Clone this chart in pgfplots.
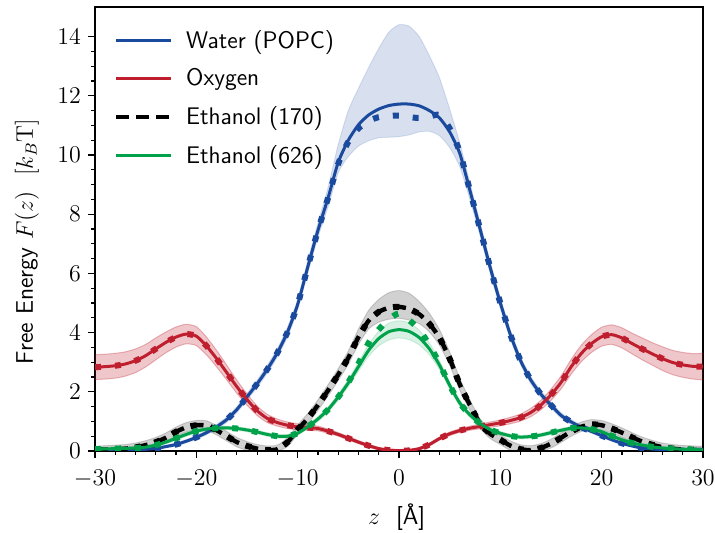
\documentclass[border=0pt]{standalone}
\usepackage{pgfplots}
\pgfplotsset{compat=1.18}
\usepackage{pgfplotstable}
\usepgfplotslibrary{fillbetween}
\definecolor{cblue}{HTML}{1A4A9E}
\definecolor{cred}{HTML}{BE1E2D}
\definecolor{cgreen}{HTML}{00A14B}

% z F Fd U L
\pgfplotstableread{
z F Fd U L
-30 0.00 0.00 0.03 0.00
-28 0.01 0.01 0.04 0.00
-26 0.03 0.03 0.06 0.01
-24 0.09 0.09 0.12 0.06
-23 0.15 0.15 0.19 0.11
-22 0.22 0.22 0.27 0.17
-21 0.33 0.33 0.38 0.28
-20 0.46 0.46 0.52 0.40
-19 0.62 0.62 0.69 0.55
-18 0.82 0.82 0.90 0.74
-17 1.06 1.06 1.15 0.97
-16 1.40 1.40 1.50 1.30
-15 1.83 1.83 1.94 1.72
-14 2.27 2.27 2.39 2.15
-13 2.76 2.76 2.89 2.63
-12 3.32 3.32 3.46 3.18
-11 4.02 4.02 4.18 3.86
-10 4.95 4.95 5.12 4.78
-9 6.22 6.22 6.42 6.02
-8 7.45 7.45 7.70 7.22
-7 8.55 8.55 8.90 8.25
-6 9.75 9.70 10.35 9.40
-5 10.50 10.45 11.50 9.95
-4 11.02 10.90 12.25 10.30
-3 11.35 11.15 12.95 10.48
-2 11.55 11.28 13.60 10.58
-1 11.67 11.32 14.15 10.60
0 11.72 11.33 14.40 10.62
1 11.72 11.28 14.35 10.68
2 11.66 11.25 14.00 10.78
3 11.50 11.30 13.35 10.80
4 11.25 11.35 12.60 10.65
5 10.78 10.90 11.55 10.25
6 10.05 10.10 10.40 9.60
7 8.80 8.80 9.05 8.50
8 7.50 7.50 7.72 7.28
9 6.20 6.20 6.40 6.00
10 5.00 5.00 5.17 4.83
11 3.92 3.92 4.07 3.77
12 3.05 3.05 3.18 2.92
13 2.40 2.40 2.52 2.28
14 1.92 1.92 2.03 1.81
15 1.55 1.55 1.65 1.45
16 1.20 1.20 1.29 1.11
17 0.98 0.98 1.06 0.90
18 0.80 0.80 0.87 0.73
19 0.66 0.66 0.72 0.60
20 0.52 0.52 0.58 0.46
21 0.38 0.38 0.43 0.33
22 0.26 0.26 0.30 0.22
23 0.17 0.17 0.21 0.13
24 0.10 0.10 0.13 0.07
26 0.04 0.04 0.07 0.01
28 0.01 0.01 0.04 0.00
30 0.00 0.00 0.03 0.00
}\water

\pgfplotstableread{
z F U L
-30 2.83 3.25 2.41
-29 2.85 3.27 2.43
-28 2.88 3.30 2.46
-27 2.94 3.35 2.53
-26 3.05 3.45 2.65
-25 3.22 3.60 2.84
-24 3.45 3.82 3.08
-23 3.67 4.02 3.32
-22 3.85 4.19 3.51
-21 3.95 4.28 3.62
-20 3.88 4.20 3.56
-19 3.55 3.85 3.25
-18 3.12 3.40 2.84
-17 2.65 2.90 2.40
-16 2.17 2.39 1.95
-15 1.74 1.93 1.55
-14 1.36 1.52 1.20
-13 1.10 1.24 0.96
-12 0.96 1.08 0.84
-11 0.87 0.98 0.76
-10 0.82 0.92 0.72
-9 0.79 0.88 0.70
-8 0.76 0.84 0.68
-7 0.67 0.74 0.60
-6 0.56 0.62 0.50
-5 0.43 0.49 0.37
-4 0.30 0.35 0.25
-3 0.18 0.23 0.13
-2 0.08 0.12 0.04
-1 0.03 0.07 0.00
0 0.01 0.05 0.00
1 0.02 0.06 0.00
2 0.08 0.12 0.04
3 0.22 0.27 0.17
4 0.42 0.47 0.37
5 0.58 0.64 0.52
6 0.69 0.75 0.63
7 0.77 0.84 0.70
8 0.83 0.91 0.75
9 0.89 0.98 0.80
10 0.95 1.05 0.85
11 1.03 1.14 0.92
12 1.13 1.25 1.01
13 1.30 1.44 1.16
14 1.55 1.71 1.39
15 1.90 2.09 1.71
16 2.32 2.54 2.10
17 2.85 3.10 2.60
18 3.30 3.58 3.02
19 3.63 3.93 3.33
20 3.86 4.18 3.54
21 3.93 4.26 3.60
22 3.82 4.16 3.48
23 3.63 3.98 3.28
24 3.45 3.82 3.08
25 3.28 3.66 2.90
26 3.12 3.52 2.72
27 2.99 3.40 2.58
28 2.91 3.33 2.49
29 2.86 3.29 2.43
30 2.85 3.30 2.40
}\oxygen

\pgfplotstableread{
z F U L
-30 0.04 0.16 0.00
-28 0.06 0.20 0.00
-27 0.08 0.22 0.00
-26 0.12 0.27 0.00
-25 0.20 0.35 0.05
-24 0.30 0.46 0.14
-23 0.45 0.61 0.29
-22 0.65 0.81 0.49
-21 0.80 0.96 0.64
-20 0.87 1.03 0.71
-19 0.86 1.02 0.70
-18 0.70 0.86 0.54
-17 0.50 0.66 0.34
-16 0.30 0.46 0.14
-15 0.17 0.32 0.02
-14 0.08 0.22 0.00
-13 0.03 0.17 0.00
-12 0.06 0.20 0.00
-11 0.30 0.45 0.15
-10 0.72 0.88 0.56
-9 1.10 1.27 0.93
-8 1.55 1.73 1.37
-7 2.05 2.24 1.86
-6 2.58 2.78 2.38
-5 3.15 3.38 2.93
-4 3.85 4.12 3.60
-3 4.40 4.75 4.12
-2 4.70 5.12 4.35
-1 4.84 5.35 4.45
0 4.87 5.42 4.48
1 4.80 5.33 4.42
2 4.62 5.05 4.30
3 4.30 4.65 4.02
4 3.82 4.10 3.57
5 3.12 3.35 2.90
6 2.25 2.45 2.05
7 1.55 1.72 1.38
8 0.93 1.09 0.77
9 0.58 0.74 0.42
10 0.38 0.54 0.22
11 0.18 0.34 0.02
12 0.06 0.21 0.00
13 0.03 0.18 0.00
14 0.10 0.25 0.00
15 0.25 0.40 0.10
16 0.45 0.61 0.29
17 0.66 0.82 0.50
18 0.82 0.98 0.66
19 0.90 1.06 0.74
20 0.87 1.03 0.71
21 0.76 0.92 0.60
22 0.62 0.78 0.46
23 0.46 0.62 0.30
24 0.32 0.47 0.17
25 0.21 0.36 0.06
26 0.13 0.27 0.00
27 0.08 0.22 0.00
28 0.05 0.19 0.00
30 0.03 0.16 0.00
}\ethA

\pgfplotstableread{
z F Fd U L
-30 0.06 0.06 0.12 0.01
-28 0.08 0.08 0.14 0.02
-26 0.10 0.10 0.16 0.04
-25 0.13 0.13 0.19 0.07
-24 0.20 0.20 0.26 0.14
-23 0.30 0.30 0.36 0.24
-22 0.43 0.43 0.49 0.37
-21 0.56 0.56 0.62 0.50
-20 0.67 0.67 0.73 0.61
-19 0.74 0.74 0.80 0.68
-18 0.77 0.77 0.83 0.71
-17 0.78 0.78 0.84 0.72
-16 0.76 0.76 0.82 0.70
-15 0.71 0.71 0.77 0.65
-14 0.64 0.64 0.70 0.58
-13 0.56 0.56 0.62 0.50
-12 0.50 0.50 0.56 0.44
-11 0.50 0.50 0.56 0.44
-10 0.60 0.60 0.66 0.54
-9 0.82 0.82 0.89 0.75
-8 1.08 1.08 1.16 1.00
-7 1.40 1.40 1.49 1.31
-6 1.82 1.82 1.92 1.72
-5 2.30 2.32 2.42 2.18
-4 2.85 2.95 3.00 2.70
-3 3.40 3.65 3.60 3.20
-2 3.80 4.10 4.05 3.55
-1 4.03 4.45 4.32 3.75
0 4.10 4.65 4.40 3.82
1 4.04 4.42 4.33 3.76
2 3.83 4.10 4.08 3.58
3 3.45 3.58 3.65 3.25
4 2.90 2.95 3.05 2.75
5 2.22 2.22 2.34 2.10
6 1.62 1.62 1.72 1.52
7 1.22 1.22 1.30 1.14
8 0.93 0.93 1.00 0.86
9 0.72 0.72 0.78 0.66
10 0.60 0.60 0.66 0.54
11 0.51 0.51 0.57 0.45
12 0.47 0.47 0.53 0.41
13 0.49 0.49 0.55 0.43
14 0.54 0.54 0.60 0.48
15 0.62 0.62 0.68 0.56
16 0.70 0.70 0.76 0.64
17 0.77 0.77 0.83 0.71
18 0.78 0.78 0.84 0.72
19 0.74 0.74 0.80 0.68
20 0.65 0.65 0.71 0.59
21 0.51 0.51 0.57 0.45
22 0.38 0.38 0.44 0.32
23 0.27 0.27 0.33 0.21
24 0.20 0.20 0.26 0.14
25 0.14 0.14 0.20 0.08
26 0.10 0.10 0.16 0.04
27 0.08 0.08 0.14 0.02
28 0.06 0.06 0.12 0.00
30 0.04 0.04 0.10 0.00
}\ethB

\begin{document}
\begin{tikzpicture}
\begin{axis}[
  scale only axis, width=304pt, height=222pt,
  xmin=-30, xmax=30, ymin=0, ymax=15,
  xtick={-30,-20,...,30}, ytick={0,2,...,14},
  minor x tick num=4, minor y tick num=3,
  tick align=outside, xtick pos=bottom, ytick pos=left,
  major tick length=3.5pt, minor tick length=2pt,
  tick style={black, line width=0.6pt},
  axis line style={line width=0.7pt},
  tick label style={font=\fontsize{12.5}{14}\selectfont},
  xticklabel style={yshift=-2.5pt},
  label style={font=\fontsize{12}{14}\selectfont\sffamily},
  xlabel={$z$\hspace{8pt}[\AA]},
  ylabel={Free Energy $F(z)$\ \ $[k_B\mathrm{T}]$},
  xlabel style={at={(axis description cs:0.496,-0.149)}, anchor=center},
  ylabel style={at={(axis description cs:-0.112,0.472)}, anchor=center},
  legend style={draw=none, fill=none, at={(axis description cs:0.024,0.967)}, anchor=north west,
    font=\fontsize{12}{14}\selectfont\sffamily, row sep=4.8pt, inner sep=2pt},
  legend cell align=left,
  legend image code/.code={\draw[#1] (0pt,0pt) -- (27.5pt,0pt); \path[draw=none] (0pt,0pt) -- (33pt,0pt);},
  every axis plot/.append style={smooth, tension=0.4},
]
% bands
\addplot[name path=wu, draw=cblue, draw opacity=0.15, line width=0.5pt, forget plot] table[x=z,y=U]{\water};
\addplot[name path=wl, draw=cblue, draw opacity=0.15, line width=0.5pt, forget plot] table[x=z,y=L]{\water};
\addplot[fill=cblue, fill opacity=0.17, draw=none, forget plot] fill between[of=wu and wl];
\addplot[name path=ou, draw=cred, draw opacity=0.3, line width=0.5pt, forget plot] table[x=z,y=U]{\oxygen};
\addplot[name path=ol, draw=cred, draw opacity=0.3, line width=0.5pt, forget plot] table[x=z,y=L]{\oxygen};
\addplot[fill=cred, fill opacity=0.25, draw=none, forget plot] fill between[of=ou and ol];
\addplot[name path=au, draw=black, draw opacity=0.15, line width=0.5pt, forget plot] table[x=z,y=U]{\ethA};
\addplot[name path=al, draw=black, draw opacity=0.15, line width=0.5pt, forget plot] table[x=z,y=L]{\ethA};
\addplot[fill=black, fill opacity=0.18, draw=none, forget plot] fill between[of=au and al];
\addplot[name path=bu, draw=cgreen, draw opacity=0.15, line width=0.5pt, forget plot] table[x=z,y=U]{\ethB};
\addplot[name path=bl, draw=cgreen, draw opacity=0.15, line width=0.5pt, forget plot] table[x=z,y=L]{\ethB};
\addplot[fill=cgreen, fill opacity=0.15, draw=none, forget plot] fill between[of=bu and bl];
% water
\addplot[cblue, line width=1.5pt] table[x=z,y=F]{\water};
\addlegendentry{Water (POPC)}
\addplot[cblue, line width=3pt, dash pattern=on 3pt off 7pt, forget plot] table[x=z,y=Fd]{\water};
% oxygen
\addplot[cred, line width=1.5pt] table[x=z,y=F]{\oxygen};
\addlegendentry{Oxygen}
\addplot[cred, line width=3pt, dash pattern=on 3pt off 7pt, forget plot] table[x=z,y=F]{\oxygen};
% ethanol 170
\addplot[black, line width=2.2pt, dash pattern=on 6.5pt off 3.5pt] table[x=z,y=F]{\ethA};
\addlegendentry{Ethanol (170)}
\addplot[black, line width=3pt, dash pattern=on 3pt off 7pt, forget plot] table[x=z,y=F]{\ethA};
% ethanol 626
\addplot[cgreen, line width=1.5pt] table[x=z,y=F]{\ethB};
\addlegendentry{Ethanol (626)}
\addplot[cgreen, line width=3pt, dash pattern=on 3pt off 7pt, forget plot] table[x=z,y=Fd]{\ethB};
\end{axis}
\pgfresetboundingbox
\path ([xshift=-47.5pt,yshift=-41pt]current axis.south west) rectangle ([xshift=6pt,yshift=3.5pt]current axis.north east);
\end{tikzpicture}
\end{document}
